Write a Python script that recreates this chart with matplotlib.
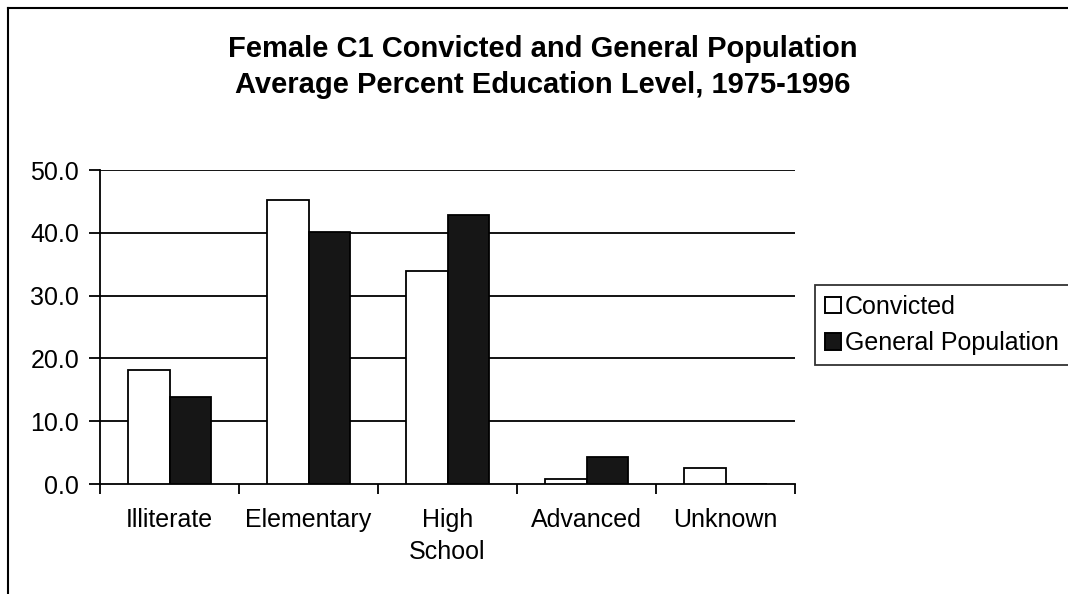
import matplotlib
matplotlib.use("Agg")
import matplotlib.pyplot as plt
import numpy as np
from matplotlib.lines import Line2D

categories = ["Illiterate", "Elementary", "High\nSchool", "Advanced", "Unknown"]
convicted = [18.2, 45.2, 33.9, 0.8, 2.5]
general = [13.9, 40.1, 42.8, 4.3, 0.0]
yticks = [0, 10, 20, 30, 40, 50]
series_names = ["Convicted", "General Population"]
title = "Female C1 Convicted and General Population\nAverage Percent Education Level, 1975-1996"

plt.rcParams['font.family'] = ['Liberation Sans', 'DejaVu Sans']

fig = plt.figure(figsize=(10.68, 5.94), dpi=100)
ax = fig.add_axes([100/1068, 1-484/594, 695/1068, 314/594])

x = np.arange(len(categories))
w = 0.295
ax.bar(x - w/2, convicted, w, color="white", edgecolor="black", linewidth=1.3, zorder=3)
ax.bar(x + w/2, general, w, color="#161616", edgecolor="black", linewidth=1.3, zorder=3)

ax.set_xlim(-0.5, len(categories) - 0.5)
ax.set_ylim(0, 50)
ax.set_yticks(yticks)
ax.set_yticklabels([f"{v:.1f}" for v in yticks], fontsize=18)
for v in yticks[1:]:
    ax.axhline(v, color="black", linewidth=1.3, zorder=1)

ax.set_xticks(np.arange(-0.5, len(categories), 1.0))
ax.set_xticklabels([])
ax.set_xticks(x, minor=True)
ax.set_xticklabels(categories, minor=True, fontsize=18, linespacing=1.45)
ax.tick_params(axis="x", which="minor", length=0, pad=17)
ax.tick_params(axis="x", which="major", length=7, width=1.3, direction="out")
ax.tick_params(axis="y", length=8, width=1.3, direction="out", pad=7)
for lbl in ax.get_xticklabels(minor=True):
    lbl.set_verticalalignment("top")

for s in ["top", "right"]:
    ax.spines[s].set_visible(False)
for s in ["left", "bottom"]:
    ax.spines[s].set_linewidth(1.3)

fig.text(543/1068, 1-67/594, title, ha="center", va="center", fontsize=21,
         fontweight="bold", linespacing=1.38)

handles = [plt.Rectangle((0, 0), 1, 1, facecolor="white", edgecolor="black", linewidth=1.4),
           plt.Rectangle((0, 0), 1, 1, facecolor="#161616", edgecolor="black", linewidth=1.4)]
leg = fig.legend(handles, series_names, loc="center left",
                 bbox_to_anchor=(815/1068, 1-325/594), fontsize=18,
                 frameon=True, fancybox=False, edgecolor="black",
                 handlelength=0.65, handleheight=0.65, handletextpad=0.15,
                 borderpad=0.4, labelspacing=0.5, borderaxespad=0)
leg.get_frame().set_linewidth(1.3)

fig.add_artist(Line2D([8/1068, 8/1068], [0, 1-8/594], color="black", linewidth=1.5,
                      transform=fig.transFigure))
fig.add_artist(Line2D([8/1068, 1], [1-8/594, 1-8/594], color="black", linewidth=1.5,
                      transform=fig.transFigure))

fig.savefig("out.png", dpi=100)
